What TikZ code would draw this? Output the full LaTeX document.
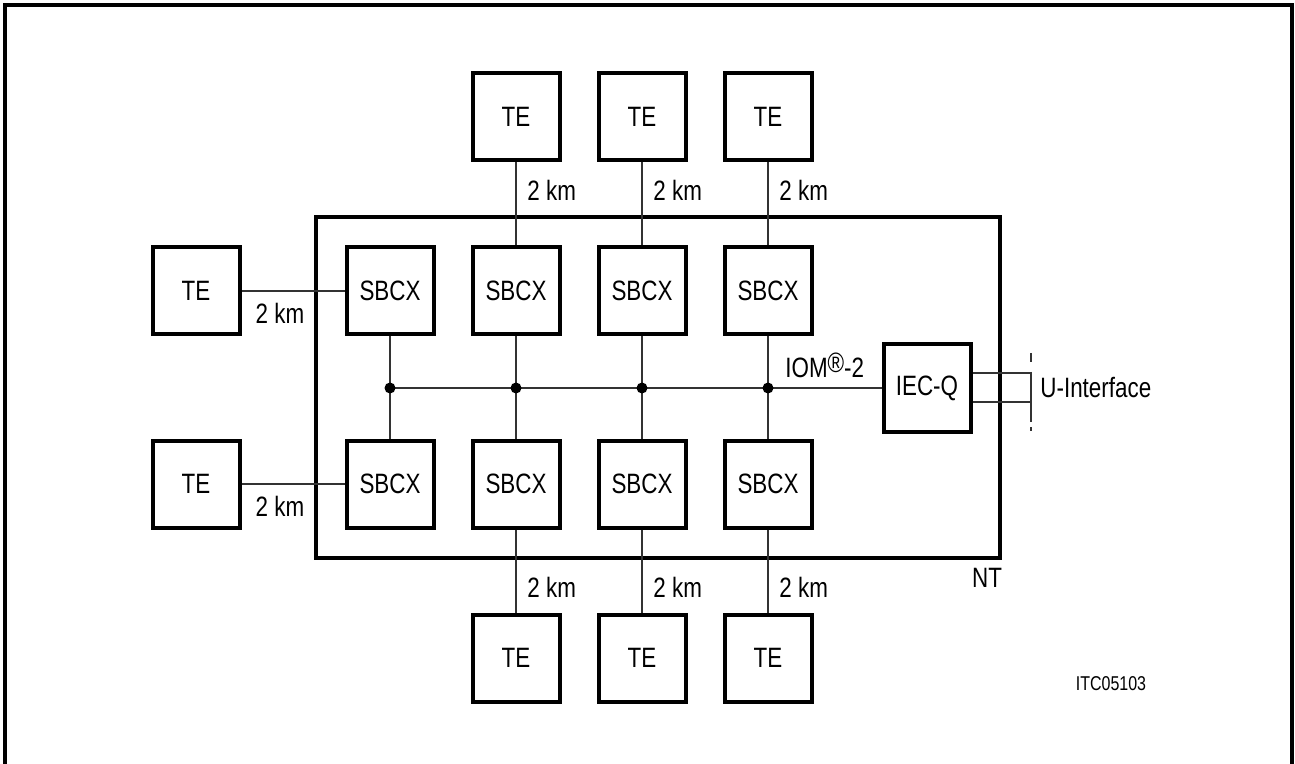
\documentclass[tikz,border=0pt]{standalone}
\usepackage{fontspec}
\setmainfont{Liberation Sans}[FakeStretch=0.8]

\tikzset{
  unit/.style={draw, line width=2pt, minimum size=43.5pt, inner sep=0pt, font=\fontsize{14}{15}\selectfont},
  link/.style={line width=0.7pt, black!80},
  dist/.style={inner sep=0pt, font=\fontsize{14}{15}\selectfont},
  junction/.style={circle, fill, inner sep=0pt, minimum size=5.5pt}
}

\begin{document}
\begin{tikzpicture}[x=0.5pt, y=-0.5pt]
        \useasboundingbox (0,0) rectangle (1295,764);

        % Frame
        \draw[line width=2pt] (5,764) -- (5,5) -- (1292,5) -- (1292,764);

        % NT
        \draw[line width=2pt] (316,217) rectangle (1000,558);
        \node[dist] (nt) at (987,578) {NT};

        % SBCX rows
        \foreach \i in {1,...,4} {
          \node[unit] (sa\i) at ({390+126*(\i-1)},291) {SBCX};
          \node[unit] (sb\i) at ({390+126*(\i-1)},484) {SBCX};
          \coordinate (j\i) at ({390+126*(\i-1)},388);
          \draw[link] (sa\i) -- (sb\i);
        }

        % IEC-Q
        \node[unit] (iec) at (927,388) {IEC-Q};

        % IOM bus
        \draw[link] (j1) -- (iec);
        \foreach \i in {1,...,4}
          \node[junction] at (j\i) {};
        \node[dist, anchor=base west] (iom) at (785,378)
          {IOM\raisebox{2.5pt}{\fontsize{14}{14}\selectfont ®}-2};

        % Left TEs
        \node[unit] (tl1) at (196,291) {TE};
        \node[unit] (tl2) at (196,484) {TE};
        \draw[link] (tl1) -- (sa1);
        \draw[link] (tl2) -- (sb1);
        \node[dist] at (280,313) {2 km};
        \node[dist] at (280,506) {2 km};

        % Upper and lower TEs
        \foreach \i in {2,3,4} {
          \node[unit] (tt\i) at ({390+126*(\i-1)},117) {TE};
          \node[unit] (tb\i) at ({390+126*(\i-1)},658) {TE};
          \draw[link] (tt\i) -- (sa\i);
          \draw[link] (sb\i) -- (tb\i);
          \node[dist, anchor=west] at ({401+126*(\i-1)},190) {2 km};
          \node[dist, anchor=west] at ({401+126*(\i-1)},587) {2 km};
        }

        % U-Interface
        \coordinate (u1) at (1031,373);
        \coordinate (u2) at (1031,402);
        \draw[link] (iec.east |- u1) -- (u1);
        \draw[link] (iec.east |- u2) -- (u2);
        \draw[link, dash pattern=on 4.5pt off 5pt on 25pt off 2.5pt] (1031,353) -- (1031,431);
        \node[dist, anchor=west] (uif) at (1040,388) {U-Interface};

        % Figure number
        \node[inner sep=0pt, font=\fontsize{10}{11}\selectfont] (fig) at (1111,684) {ITC05103};
      \end{tikzpicture}
\end{document}
